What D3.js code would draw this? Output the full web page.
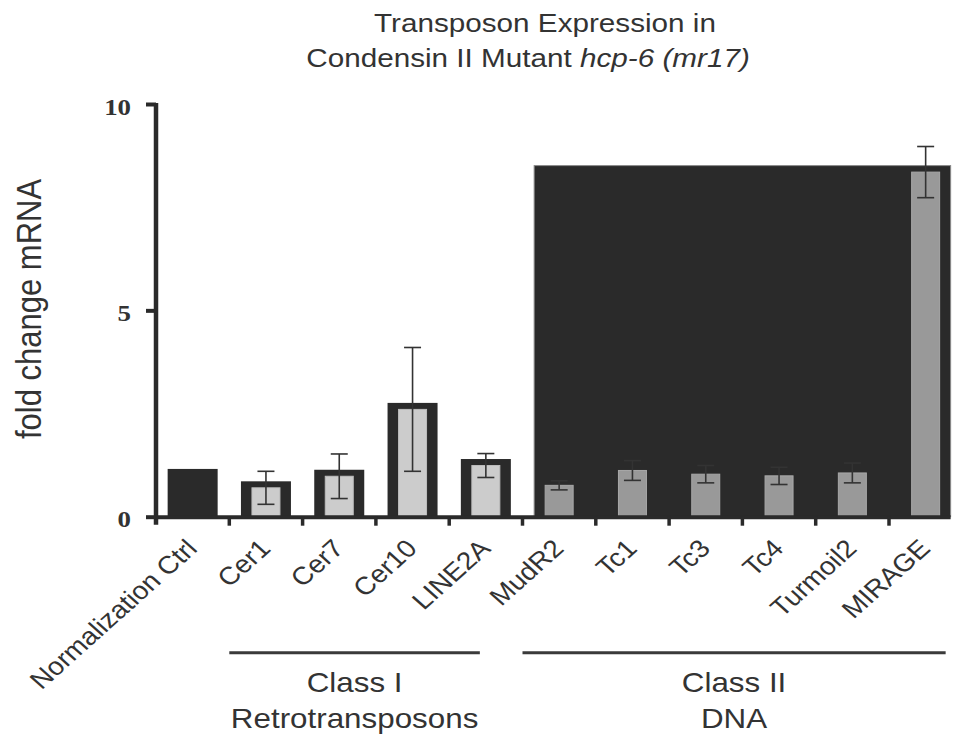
<!DOCTYPE html>
<meta charset="utf-8">
<head>
  <style>
    body { margin: 0; background: #fff; }
    text { fill: #333; font-family: "Liberation Sans", Arial, sans-serif; }
    .ytick text { font-family: "Liberation Serif", serif; font-weight: bold; font-size: 24px; }
  </style>
</head>
<body>
<div id="chart"></div>
<script src="https://d3js.org/d3.v7.min.js"></script>
<script>

var categories = ["Normalization Ctrl", "Cer1", "Cer7", "Cer10", "LINE2A",
                  "MudR2", "Tc1", "Tc3", "Tc4", "Turmoil2", "MIRAGE"];
var classOf = ["ctrl", "I", "I", "I", "I", "II", "II", "II", "II", "II", "II"];
var foldChange = [1.0, 0.70, 0.98, 2.60, 1.24, 0.76, 1.12, 1.03, 0.99, 1.06, 8.35];
var errors = [0, 0.40, 0.54, 1.50, 0.29, 0.11, 0.24, 0.21, 0.21, 0.24, 0.62];
var yTicks = [0, 5, 10];
var titleLines = ["Transposon Expression in", "Condensin II Mutant "];
var groups = [
  { key: "I", lines: ["Class I", "Retrotransposons"] },
  { key: "II", lines: ["Class II", "DNA"] }
];

var width = 954, height = 736;
var sx = 1.12; // the whole figure is a little stretched sideways

var x = d3.scaleBand()
  .domain(categories)
  .range([156, 962.3]);
var y = d3.scaleLinear()
  .domain([0, 10])
  .range([516.7, 104]);

var fill = { ctrl: "#2a2a2a", I: "#cccccc", II: "#999999" };
var dark = "#2a2a2a";
var bw = x.bandwidth();
var outerW = 50, innerW = 28, rim = 6.5;

var data = categories.map(function(c, i) {
  return { name: c, cls: classOf[i], v: foldChange[i], e: errors[i], cx: x(c) + bw / 2 };
});

var svg = d3.select("#chart").append("svg")
  .attr("width", width)
  .attr("height", height);

// title
svg.append("text")
  .attr("transform", "translate(545,32) scale(" + sx + ",1)")
  .attr("text-anchor", "middle")
  .style("font-size", "26.5px")
  .text(titleLines[0]);
var t2 = svg.append("text")
  .attr("transform", "translate(528,67) scale(" + sx + ",1)")
  .attr("text-anchor", "middle")
  .style("font-size", "26.5px");
t2.append("tspan").text(titleLines[1]);
t2.append("tspan").style("font-style", "italic").text("hcp-6 (mr17)");

// y title
svg.append("text")
  .attr("transform", "translate(41,309) scale(" + sx + ",1) rotate(-90)")
  .attr("text-anchor", "middle")
  .style("font-size", "31px")
  .text("fold change mRNA");

// dark block behind the class II bars
var cls2 = data.filter(function(d) { return d.cls == "II"; });
var first2 = cls2[0], last2 = cls2[cls2.length - 1];
svg.append("rect")
  .attr("x", first2.cx - outerW / 2)
  .attr("y", y(d3.max(cls2, function(d) { return d.v; })) - rim)
  .attr("width", last2.cx - first2.cx + outerW)
  .attr("height", y(0) - y(d3.max(cls2, function(d) { return d.v; })) + rim)
  .attr("fill", dark)
  .attr("stroke", "#8a8a8a")
  .attr("stroke-width", 1);

// outer dark bars
svg.selectAll(".outer")
  .data(data.filter(function(d) { return d.cls != "II"; }))
  .enter().append("rect")
  .attr("x", function(d) { return d.cx - outerW / 2; })
  .attr("y", function(d) { return y(d.v) - rim; })
  .attr("width", outerW)
  .attr("height", function(d) { return y(0) - y(d.v) + rim; })
  .attr("fill", dark);

// inner bars
svg.selectAll(".inner")
  .data(data.filter(function(d) { return d.cls != "ctrl"; }))
  .enter().append("rect")
  .attr("x", function(d) { return d.cx - innerW / 2; })
  .attr("y", function(d) { return y(d.v); })
  .attr("width", innerW)
  .attr("height", function(d) { return y(0) - y(d.v); })
  .attr("fill", function(d) { return fill[d.cls]; })
  .attr("stroke", function(d) { return d.cls == "II" ? "#a8a8a8" : "#bdbdbd"; })
  .attr("stroke-width", 1);

// error bars
var eb = svg.selectAll(".err")
  .data(data.filter(function(d) { return d.e > 0; }))
  .enter().append("g")
  .attr("stroke", "#333")
  .attr("stroke-width", 1.6);
eb.append("line")
  .attr("x1", function(d) { return d.cx; })
  .attr("x2", function(d) { return d.cx; })
  .attr("y1", function(d) { return y(d.v + d.e); })
  .attr("y2", function(d) { return y(d.v - d.e); });
eb.selectAll(".cap")
  .data(function(d) { return [[d.cx, d.v + d.e], [d.cx, d.v - d.e]]; })
  .enter().append("line")
  .attr("x1", function(p) { return p[0] - 8.5; })
  .attr("x2", function(p) { return p[0] + 8.5; })
  .attr("y1", function(p) { return y(p[1]); })
  .attr("y2", function(p) { return y(p[1]); });

// x axis
var axisEnd = last2.cx + outerW / 2;
svg.append("line")
  .attr("x1", 154).attr("x2", axisEnd)
  .attr("y1", y(0) + 0.5).attr("y2", y(0) + 0.5)
  .attr("stroke", dark).attr("stroke-width", 4);
svg.selectAll(".xtick")
  .data(categories.slice(1))
  .enter().append("line")
  .attr("x1", function(c) { return x(c); })
  .attr("x2", function(c) { return x(c); })
  .attr("y1", y(0)).attr("y2", y(0) + 9)
  .attr("stroke", dark).attr("stroke-width", 3.5);

svg.selectAll(".xlabel")
  .data(data)
  .enter().append("text")
  .attr("transform", function(d) {
    return "translate(" + (d.cx + 6) + ",550) scale(" + sx + ",1) rotate(-45)";
  })
  .attr("text-anchor", "end")
  .style("font-size", "25px")
  .text(function(d) { return d.name; });

// y axis
var yAxis = svg.append("g")
  .attr("class", "ytick")
  .attr("transform", "translate(156,0)")
  .call(d3.axisLeft(y).tickValues(yTicks).tickSize(10).tickSizeOuter(0).tickPadding(0));
yAxis.select(".domain")
  .attr("stroke", dark).attr("stroke-width", 4.5)
  .attr("d", "M0," + (y(10) - 1) + "V" + (y(0) + 8));
yAxis.selectAll(".tick line").attr("stroke", dark).attr("stroke-width", 4);
yAxis.selectAll(".tick text")
  .attr("x", 0).attr("dy", null)
  .attr("transform", "translate(-25,10) scale(" + sx + ",1)")
  .attr("fill", "#333");

// class groups
groups.forEach(function(g) {
  var members = data.filter(function(d) { return d.cls == g.key; });
  var a = members[0], b = members[members.length - 1];
  var x0 = x(a.name), x1 = g.key == "I" ? b.cx - 6 : b.cx + 20;
  var mid = (x0 + x1) / 2;
  svg.append("line")
    .attr("x1", x0).attr("x2", x1)
    .attr("y1", 652.7).attr("y2", 652.7)
    .attr("stroke", "#3a3a3a").attr("stroke-width", 3);
  g.lines.forEach(function(s, i) {
    svg.append("text")
      .attr("transform", "translate(" + mid + "," + (692 + i * 35.5) + ") scale(" + sx + ",1)")
      .attr("text-anchor", "middle")
      .style("font-size", "28px")
      .text(s);
  });
});

</script>
